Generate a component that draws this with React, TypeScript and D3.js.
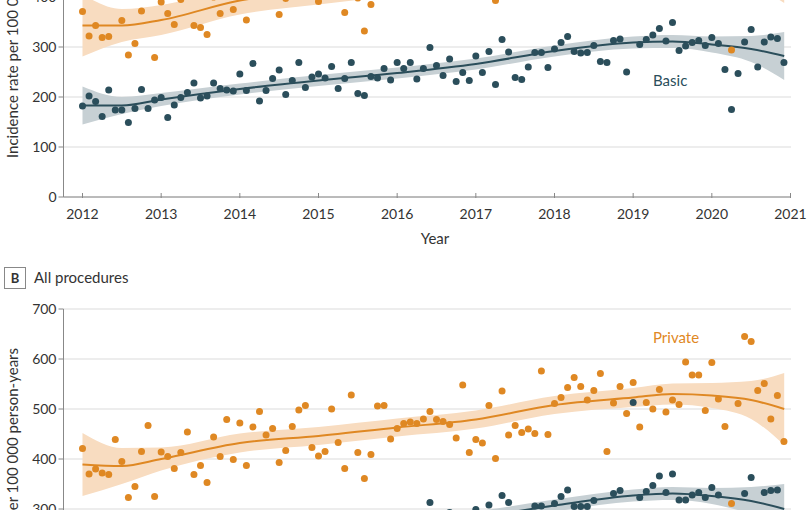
import React from 'react'
import * as d3 from 'd3'

// monthly observations, Jan 2012 .. Dec 2020 (108 per series)
const topBasic = [
  182, 202, 191, 161, 214, 174, 174, 149, 177, 215, 177, 194,
  199, 159, 184, 199, 209, 228, 198, 202, 228, 217, 214, 212,
  246, 213, 267, 192, 213, 237, 254, 205, 233, 269, 219, 240,
  246, 238, 261, 217, 237, 269, 207, 203, 241, 238, 257, 234,
  269, 257, 269, 236, 257, 299, 263, 243, 276, 231, 249, 233,
  282, 249, 291, 225, 315, 290, 239, 235, 260, 289, 289, 259,
  296, 309, 321, 291, 288, 289, 303, 271, 269, 313, 316, 250,
  420, 305, 315, 324, 337, 312, 349, 293, 302, 309, 313, 303,
  319, 307, 255, 175, 247, 310, 335, 260, 310, 320, 317, 269,
]
const topPrivate = [
  371, 322, 343, 319, 321, 415, 353, 284, 307, 372, 425, 279,
  390, 367, 345, 395, 412, 343, 339, 325, 400, 367, 418, 375,
  432, 354, 408, 446, 420, 438, 365, 397, 452, 428, 411, 441,
  391, 402, 466, 424, 369, 455, 398, 332, 385, 471, 437, 419,
  445, 462, 428, 470, 455, 489, 438, 476, 452, 468, 441, 402,
  478, 455, 496, 393, 470, 401, 462, 487, 449, 480, 505, 458,
  472, 490, 503, 468, 495, 474, 488, 512, 401, 466, 497, 452,
  505, 470, 484, 498, 476, 511, 490, 462, 525, 503, 488, 470,
  520, 482, 430, 294, 468, 530, 505, 470, 498, 476, 489, 452,
]
const allPrivate = [
  421, 370, 380, 372, 369, 439, 395, 323, 345, 415, 467, 325,
  414, 405, 381, 413, 454, 369, 387, 353, 444, 405, 479, 399,
  472, 387, 464, 495, 448, 461, 393, 417, 465, 498, 507, 423,
  406, 415, 500, 433, 381, 528, 413, 361, 409, 506, 507, 440,
  461, 471, 474, 471, 480, 495, 479, 475, 469, 442, 548, 413,
  439, 432, 507, 401, 536, 448, 467, 453, 460, 451, 576, 449,
  511, 523, 543, 563, 545, 518, 537, 571, 415, 512, 545, 491,
  553, 464, 513, 500, 539, 494, 518, 509, 594, 568, 568, 497,
  593, 520, 465, 311, 511, 645, 635, 537, 551, 480, 527, 435,
]
const allBasic = [
  198, 221, 207, 180, 233, 190, 192, 166, 196, 232, 195, 211,
  217, 176, 201, 216, 228, 246, 214, 219, 247, 235, 231, 229,
  264, 230, 286, 209, 231, 255, 272, 223, 251, 288, 236, 258,
  264, 255, 279, 234, 254, 287, 224, 221, 259, 256, 275, 251,
  287, 274, 287, 253, 276, 313, 281, 261, 293, 249, 266, 251,
  299, 266, 308, 242, 327, 313, 256, 252, 277, 306, 306, 276,
  311, 325, 338, 305, 305, 305, 317, 289, 287, 331, 337, 268,
  513, 323, 335, 347, 366, 333, 370, 318, 318, 328, 333, 323,
  343, 328, 274, 193, 266, 331, 363, 279, 333, 337, 338, 290,
]

// smoothed trend and half-width of its confidence band
const fitYears = [2012, 2012.5, 2013, 2014, 2015, 2016, 2017, 2018, 2019, 2019.5, 2020, 2020.5, 2020.92]
const topBasicFit = [183, 183, 195, 216, 233, 248, 266, 292, 309, 311, 305, 296, 282]
const topBasicCi = [38, 17, 13, 11, 11, 11, 11, 11, 12, 13, 16, 26, 48]
const topPrivateFit = [343, 343, 354, 393, 412, 430, 447, 463, 476, 480, 478, 470, 458]
const topPrivateCi = [62, 33, 30, 28, 27, 27, 27, 27, 28, 30, 34, 45, 70]
const allPrivateFit = [389, 386, 400, 432, 446, 463, 479, 508, 523, 530, 527, 518, 500]
const allPrivateCi = [63, 36, 23, 19, 18, 18, 18, 18, 19, 21, 25, 38, 72]
const allBasicFit = [200, 200, 212, 236, 250, 265, 283, 307, 327, 331, 326, 316, 300]
const allBasicCi = [40, 18, 14, 12, 12, 12, 12, 12, 12, 13, 16, 28, 50]

const yearTicks = [2012, 2013, 2014, 2015, 2016, 2017, 2018, 2019, 2020, 2021]
const topTicks = [0, 100, 200, 300, 400]
const allTicks = [300, 400, 500, 600, 700]

const TEAL = '#2b4e5b'
const ORANGE = '#df8823'
const TEAL_BAND = '#c7d0d4'
const ORANGE_BAND = '#f8dcc0'
const FONT = 'Lato, "Open Sans", sans-serif'

const x = d3.scaleLinear().domain([2012, 2021]).range([82.5, 790.5])
const yTop = d3.scaleLinear().domain([0, 400]).range([197, -3])
const yAll = d3.scaleLinear().domain([300, 700]).range([509, 309])

const AXIS_X = 63.5
const GRID_END = 791

type Series = { values: number[]; fit: number[]; ci: number[]; color: string; band: string }

function Layer({ s, y, part }: { s: Series; y: d3.ScaleLinear<number, number>; part: string }) {
  if (part === 'band') {
    const area = d3
      .area<number>()
      .x((_, k) => x(fitYears[k]))
      .y0((d, k) => y(d - s.ci[k]))
      .y1((d, k) => y(d + s.ci[k]))
      .curve(d3.curveMonotoneX)
    return <path d={area(s.fit) || ''} fill={s.band} />
  }
  if (part === 'line') {
    const line = d3
      .line<number>()
      .x((_, k) => x(fitYears[k]))
      .y((d) => y(d))
      .curve(d3.curveMonotoneX)
    return <path d={line(s.fit) || ''} fill="none" stroke={s.color} strokeWidth={2} />
  }
  return (
    <g fill={s.color}>
      {s.values.map((v, i) => (
        <circle key={i} cx={x(2012 + i / 12)} cy={y(v)} r={3.5} />
      ))}
    </g>
  )
}

function Panel({ y, ticks, series }: { y: d3.ScaleLinear<number, number>; ticks: number[]; series: Series[] }) {
  return (
    <g>
      {ticks.map((t) => (
        <g key={t}>
          <line x1={AXIS_X} x2={GRID_END} y1={y(t)} y2={y(t)} stroke="#dcdcdc" strokeWidth={1.2} />
          <line x1={AXIS_X - 5} x2={AXIS_X} y1={y(t)} y2={y(t)} stroke="#888" />
          <text x={AXIS_X - 7} y={y(t)} dy="0.36em" textAnchor="end" fontSize={14} fill="#333">
            {t}
          </text>
        </g>
      ))}
      {series.map((s, k) => <Layer key={'b' + k} s={s} y={y} part="band" />)}
      {series.map((s, k) => <Layer key={'l' + k} s={s} y={y} part="line" />)}
      {series.map((s, k) => <Layer key={'p' + k} s={s} y={y} part="points" />)}
    </g>
  )
}

export default function App() {
  const top: Series[] = [
    { values: topBasic, fit: topBasicFit, ci: topBasicCi, color: TEAL, band: TEAL_BAND },
    { values: topPrivate, fit: topPrivateFit, ci: topPrivateCi, color: ORANGE, band: ORANGE_BAND },
  ]
  const all: Series[] = [
    { values: allBasic, fit: allBasicFit, ci: allBasicCi, color: TEAL, band: TEAL_BAND },
    { values: allPrivate, fit: allPrivateFit, ci: allPrivateCi, color: ORANGE, band: ORANGE_BAND },
  ]
  const axisY = yTop(0)
  return (
    <svg
      width={810}
      height={510}
      style={{ position: 'absolute', left: 0, top: 0, background: '#fff' }}
      fontFamily={FONT}
    >
      {/* panel A (top part cropped) */}
      <Panel y={yTop} ticks={topTicks} series={top} />
      <line x1={AXIS_X} x2={AXIS_X} y1={0} y2={axisY} stroke="#888" />
      <line x1={AXIS_X} x2={GRID_END} y1={axisY} y2={axisY} stroke="#888" />
      {yearTicks.map((t) => (
        <g key={t}>
          <line x1={x(t)} x2={x(t)} y1={axisY - 4} y2={axisY + 1} stroke="#888" />
          <text x={x(t)} y={219} textAnchor="middle" fontSize={14} fill="#333">
            {t}
          </text>
        </g>
      ))}
      <text x={435} y={244} textAnchor="middle" fontSize={15} fill="#333">
        Year
      </text>
      <text transform="translate(18,158) rotate(-90)" textAnchor="start" fontSize={15} fill="#333">
        Incidence rate per 100 000 person-years
      </text>
      <text x={653} y={86} fontSize={15} fill={TEAL}>
        Basic
      </text>

      {/* panel B */}
      <rect x={4.5} y={267.5} width={21} height={21} fill="none" stroke="#888" />
      <text x={15} y={283} textAnchor="middle" fontSize={13} fontWeight="bold" fill="#333">
        B
      </text>
      <text x={34} y={283} fontSize={15} fill="#333">
        All procedures
      </text>
      <Panel y={yAll} ticks={allTicks} series={all} />
      <line x1={AXIS_X} x2={AXIS_X} y1={yAll(700)} y2={510} stroke="#888" />
      <text transform="translate(18,348) rotate(-90)" textAnchor="end" fontSize={15} fill="#333">
        Incidence rate per 100 000 person-years
      </text>
      <text x={653} y={343} fontSize={15} fill={ORANGE}>
        Private
      </text>
    </svg>
  )
}
